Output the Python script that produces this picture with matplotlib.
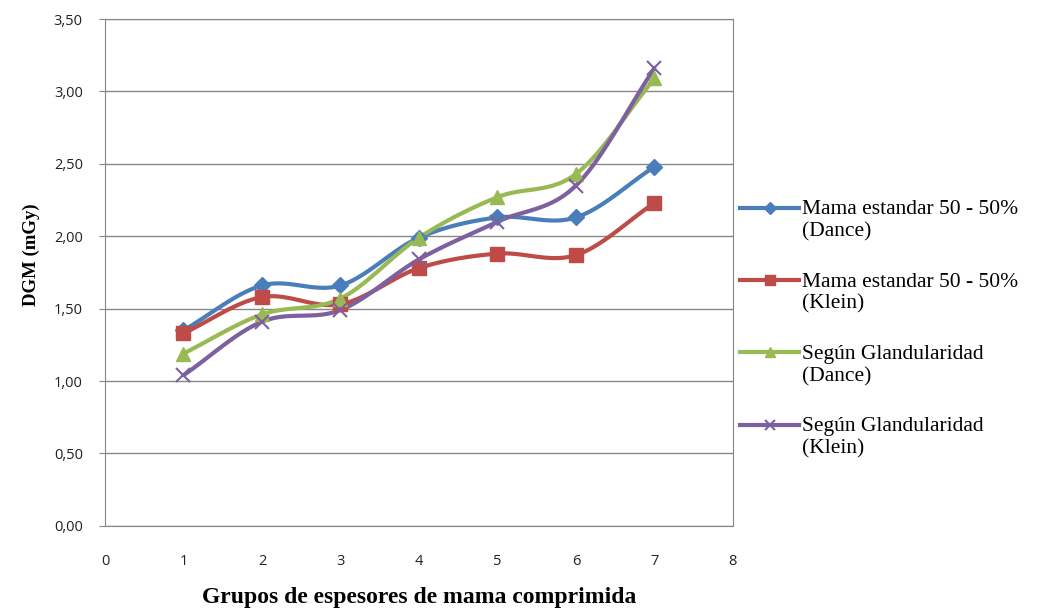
import matplotlib.pyplot as plt
import numpy as np
from matplotlib.legend_handler import HandlerLine2D

# data
grupos = [1, 2, 3, 4, 5, 6, 7]
dance_50 = [1.35, 1.66, 1.66, 1.99, 2.13, 2.13, 2.48]
klein_50 = [1.33, 1.58, 1.53, 1.78, 1.88, 1.87, 2.23]
gland_dance = [1.19, 1.46, 1.57, 1.99, 2.27, 2.43, 3.09]
gland_klein = [1.04, 1.41, 1.49, 1.84, 2.10, 2.35, 3.16]

labels = ["Mama estandar 50 - 50%\n(Dance)",
          "Mama estandar 50 - 50%\n(Klein)",
          "Según Glandularidad\n(Dance)",
          "Según Glandularidad\n(Klein)"]
colors = ["#4A7EBB", "#BE4B48", "#98B954", "#7D60A0"]
markers = ["D", "s", "^", "x"]
msizes = [8, 9.5, 9.5, 9.5]


def smooth(x, y, n=20):
    # Catmull-Rom curve through the points, like Excel's "smoothed line"
    x = np.asarray(x, float)
    y = np.asarray(y, float)
    px = np.concatenate([[2 * x[0] - x[1]], x, [2 * x[-1] - x[-2]]])
    py = np.concatenate([[2 * y[0] - y[1]], y, [2 * y[-1] - y[-2]]])
    t = np.linspace(0, 1, n)
    xs, ys = [], []
    for i in range(1, len(px) - 2):
        for p, out in ((px, xs), (py, ys)):
            p0, p1, p2, p3 = p[i - 1], p[i], p[i + 1], p[i + 2]
            out.extend(0.5 * (2 * p1 + (-p0 + p2) * t
                              + (2 * p0 - 5 * p1 + 4 * p2 - p3) * t ** 2
                              + (-p0 + 3 * p1 - 3 * p2 + p3) * t ** 3))
    return np.array(xs), np.array(ys)


class UpHandler(HandlerLine2D):
    # put the legend line next to the first text line, not the middle
    def create_artists(self, legend, orig_handle, xdescent, ydescent, width,
                       height, fontsize, trans):
        arts = super().create_artists(legend, orig_handle, xdescent, ydescent,
                                      width, height, fontsize, trans)
        for a in arts:
            a.set_ydata(np.asarray(a.get_ydata()) + 0.6 * fontsize)
        return arts


fig = plt.figure(figsize=(10.5, 6.15), dpi=100)
ax = fig.add_axes([0.1, 0.145, 0.598, 0.824])

series = [dance_50, klein_50, gland_dance, gland_klein]
for vals, lab, c, m, ms in zip(series, labels, colors, markers, msizes):
    sx, sy = smooth(grupos, vals)
    ax.plot(sx, sy, color=c, lw=3, solid_capstyle="round", zorder=3)
    mew = 1.5 if m == "x" else 1
    ax.plot(grupos, vals, ls="none", marker=m, ms=ms, color=c, mew=mew, zorder=4)
    # legend proxy
    ax.plot([], [], color=c, lw=3, marker=m, ms=ms * 0.75, mew=mew, label=lab)

ax.set_xlim(0, 8)
ax.set_ylim(0, 3.5)
ax.set_xticks(range(0, 9))
ax.set_yticks(np.arange(0, 3.51, 0.5))
ax.set_yticklabels([f"{v:.2f}".replace(".", ",") for v in np.arange(0, 3.51, 0.5)])
ax.grid(axis="y", color="#868686", lw=1)
ax.set_axisbelow(True)
for s in ax.spines.values():
    s.set_color("#868686")
ax.tick_params(axis="both", colors="#868686", length=4, labelcolor="#222222",
               labelsize=10.5)
ax.tick_params(axis="y", pad=12)
ax.tick_params(axis="x", pad=20, length=0)
for t in ax.get_xticklabels() + ax.get_yticklabels():
    t.set_fontfamily("Open Sans")

ax.set_ylabel("DGM (mGy)", fontfamily="Liberation Serif", fontweight="bold",
              fontsize=13.5, labelpad=10, y=0.535)
ax.set_xlabel("Grupos de espesores de mama comprimida", fontfamily="Liberation Serif",
              fontweight="bold", fontsize=17, labelpad=13)

leg = ax.legend(loc="upper left", bbox_to_anchor=(0.697, 0.688),
                bbox_transform=fig.transFigure, frameon=False,
                prop={"family": "Liberation Serif", "size": 15.5},
                handlelength=2.7, handletextpad=0.15, labelspacing=1.45,
                borderaxespad=0, handler_map={plt.Line2D: UpHandler()})
for t in leg.get_texts():
    t.set_linespacing(1.2)

fig.savefig("out.png", dpi=100)
